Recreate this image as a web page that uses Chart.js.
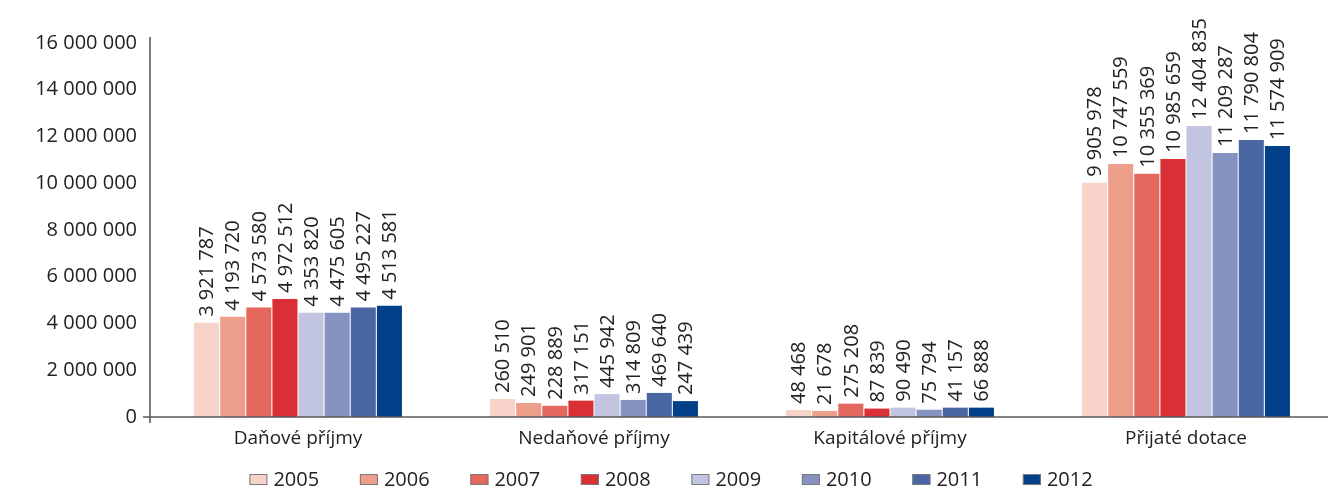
<!DOCTYPE html>
<html>
<head>
<meta charset="utf-8">
<script src="https://cdn.jsdelivr.net/npm/chart.js@4"></script>
<style>
  html, body { margin: 0; padding: 0; background: #fff; overflow: hidden; }
  #wrap { width: 1328px; height: 491px; position: relative; overflow: hidden; }
  #revenueChart { display: block; }
</style>
</head>
<body>
<div id="wrap"><canvas id="revenueChart" width="1334" height="491"></canvas></div>
<script>
// === DATA ===
const categories = ['Daňové příjmy', 'Nedaňové příjmy', 'Kapitálové příjmy', 'Přijaté dotace'];
const years = ['2005', '2006', '2007', '2008', '2009', '2010', '2011', '2012'];
const yearColors = ['#f7d2c8', '#ee9f8c', '#e5685e', '#da3035', '#c1c5e1', '#8692c0', '#4a66a2', '#02418a'];

// bar heights as drawn in the picture, per year: [Daňové, Nedaňové, Kapitálové, Přijaté]
const bars2005 = [4030000, 770000, 300000, 10020000];
const bars2006 = [4290000, 600000, 260000, 10820000];
const bars2007 = [4680000, 480000, 570000, 10410000];
const bars2008 = [5050000, 700000, 360000, 11040000];
const bars2009 = [4460000, 980000, 400000, 12450000];
const bars2010 = [4460000, 730000, 310000, 11290000];
const bars2011 = [4680000, 1030000, 400000, 11850000];
const bars2012 = [4760000, 680000, 400000, 11590000];

// printed values above the bars
const labels2005 = [3921787, 260510, 48468, 9905978];
const labels2006 = [4193720, 249901, 21678, 10747559];
const labels2007 = [4573580, 228889, 275208, 10355369];
const labels2008 = [4972512, 317151, 87839, 10985659];
const labels2009 = [4353820, 445942, 90490, 12404835];
const labels2010 = [4475605, 314809, 75794, 11209287];
const labels2011 = [4495227, 469640, 41157, 11790804];
const labels2012 = [4513581, 247439, 66888, 11574909];

const yTicks = [0, 2000000, 4000000, 6000000, 8000000, 10000000, 12000000, 14000000, 16000000];

const barSets = [bars2005, bars2006, bars2007, bars2008, bars2009, bars2010, bars2011, bars2012];
const labelSets = [labels2005, labels2006, labels2007, labels2008, labels2009, labels2010, labels2011, labels2012];

const FONT = '"Open Sans", "DejaVu Sans", sans-serif';
const AXIS_COLOR = '#5a5a5a';
const PAGE_W = 1328;

// 4513581 -> "4 513 581"
function fmt(v) {
    return String(Math.round(v)).replace(/\B(?=(\d{3})+(?!\d))/g, ' ');
}

// Rotated value labels above each bar
const valueLabels = {
    id: 'valueLabels',
    afterDatasetsDraw(chart) {
        const ctx = chart.ctx;
        ctx.save();
        ctx.font = '20px ' + FONT;
        ctx.fillStyle = '#222';
        ctx.textAlign = 'left';
        ctx.textBaseline = 'middle';
        chart.data.datasets.forEach((ds, di) => {
            chart.getDatasetMeta(di).data.forEach((bar, i) => {
                ctx.save();
                ctx.translate(bar.x, bar.y - 6);
                ctx.rotate(-Math.PI / 2);
                ctx.fillText(fmt(ds.printed[i]), 0, 1);
                ctx.restore();
            });
        });
        ctx.restore();
    }
};

// Axis lines that run a little past the zero crossing
const axisLines = {
    id: 'axisLines',
    afterDatasetsDraw(chart) {
        const ctx = chart.ctx;
        const y = chart.scales.y;
        const area = chart.chartArea;
        const zero = y.getPixelForValue(0);
        ctx.save();
        ctx.strokeStyle = AXIS_COLOR;
        ctx.lineWidth = 1.6;
        ctx.beginPath();
        ctx.moveTo(area.left, area.top - 6);
        ctx.lineTo(area.left, zero + 6);
        ctx.moveTo(area.left - 7, zero);
        ctx.lineTo(chart.width, zero);
        ctx.stroke();
        ctx.restore();
    }
};

// Year legend along the bottom
const yearLegend = {
    id: 'yearLegend',
    afterDraw(chart) {
        const ctx = chart.ctx;
        const pitch = 110.5;
        const boxW = 18, boxH = 11;
        const n = chart.data.datasets.length;
        ctx.save();
        ctx.font = '20px ' + FONT;
        const lastW = ctx.measureText(chart.data.datasets[n - 1].label).width;
        const total = pitch * (n - 1) + boxW + 6 + lastW;
        let x = PAGE_W / 2 + 7 - total / 2;
        const cy = 479.5;
        ctx.textBaseline = 'middle';
        ctx.textAlign = 'left';
        chart.data.datasets.forEach(ds => {
            ctx.fillStyle = ds.backgroundColor;
            ctx.fillRect(x, cy - boxH / 2, boxW, boxH);
            ctx.strokeStyle = '#7a7a7a';
            ctx.lineWidth = 1;
            ctx.strokeRect(x + 0.5, cy - boxH / 2 + 0.5, boxW - 1, boxH - 1);
            ctx.fillStyle = '#222';
            ctx.fillText(ds.label, x + boxW + 6, cy + 1);
            x += pitch;
        });
        ctx.restore();
    }
};

const datasets = years.map((yr, i) => ({
    label: yr,
    data: barSets[i],
    printed: labelSets[i],
    backgroundColor: yearColors[i],
    borderWidth: 0,
    barPercentage: 0.96,
    categoryPercentage: 0.706
}));

const ctx = document.getElementById('revenueChart').getContext('2d');
const chart = new Chart(ctx, {
    type: 'bar',
    data: { labels: categories, datasets: datasets },
    options: {
        responsive: false,
        animation: false,
        devicePixelRatio: 1,
        layout: { padding: { top: 43, bottom: 26, left: 0, right: 0 } },
        plugins: {
            legend: { display: false },
            tooltip: { enabled: false }
        },
        scales: {
            x: {
                grid: { display: false, drawTicks: false },
                border: { display: false },
                ticks: { color: '#222', font: { family: FONT, size: 19 }, padding: 10, maxRotation: 0 },
                afterFit(scale) { scale.height = 48; }
            },
            y: {
                min: 0,
                max: 16000000,
                afterBuildTicks(scale) { scale.ticks = yTicks.map(v => ({ value: v })); },
                grid: { display: false, drawTicks: false },
                border: { display: false },
                ticks: {
                    color: '#222',
                    font: { family: FONT, size: 20 },
                    padding: 13,
                    callback: v => fmt(v)
                },
                afterFit(scale) { scale.width = 150; }
            }
        }
    },
    plugins: [axisLines, valueLabels, yearLegend]
});
</script>
</body>
</html>
